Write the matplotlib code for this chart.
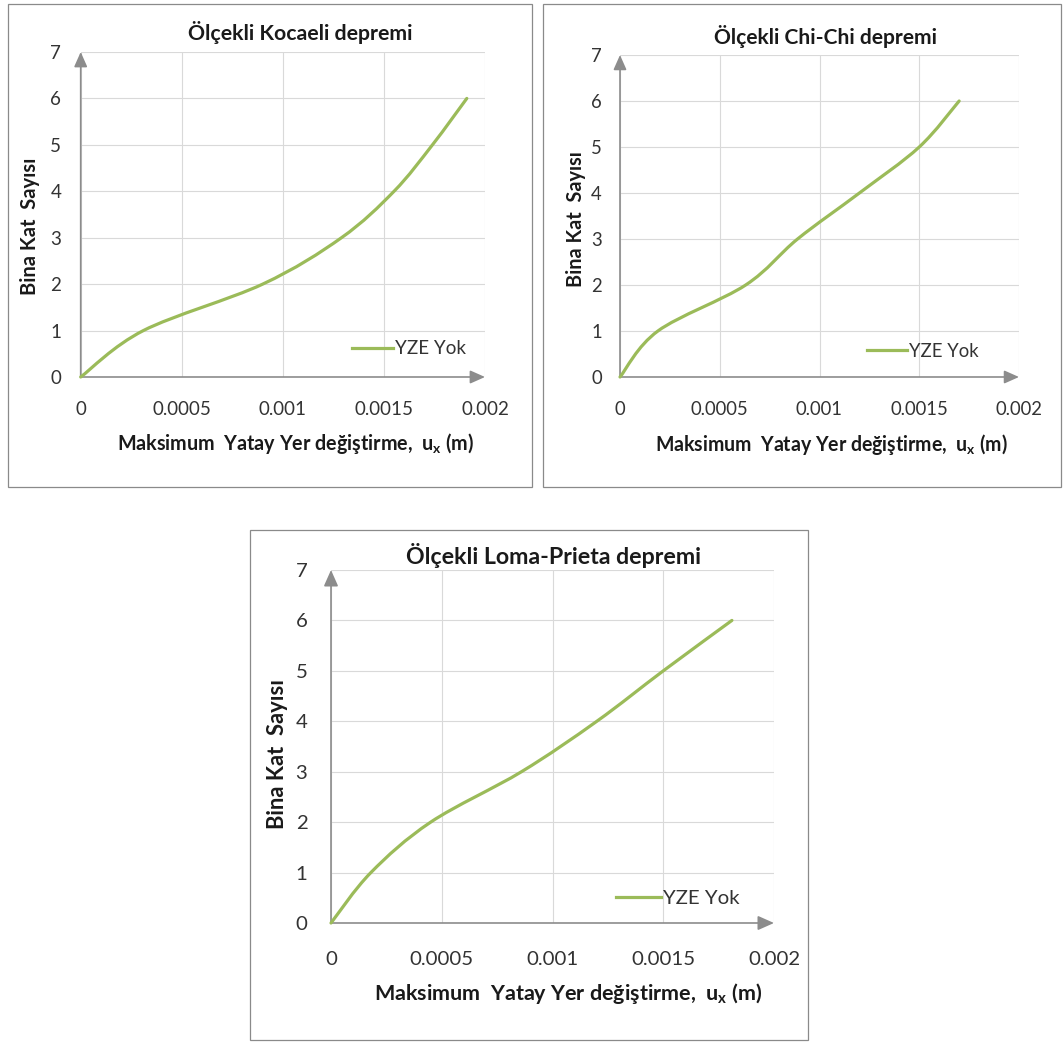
import numpy as np
import matplotlib
matplotlib.use('Agg')
import matplotlib.pyplot as plt
from matplotlib.path import Path
from matplotlib.patches import PathPatch, Rectangle
from matplotlib.lines import Line2D

plt.rcParams['font.family'] = ['Lato', 'DejaVu Sans']
plt.rcParams['mathtext.fontset'] = 'custom'
plt.rcParams['mathtext.rm'] = 'Lato'
plt.rcParams['mathtext.bf'] = 'Lato:bold'
plt.rcParams['mathtext.it'] = 'Lato:italic'

# data: floor count vs. max horizontal displacement (m)
floors = [0, 1, 2, 3, 4, 5, 6]
kocaeli_ux = [0, 0.00031, 0.00090, 0.00129, 0.00155, 0.00174, 0.00191]
chichi_ux = [0, 0.00019, 0.00063, 0.00089, 0.00120, 0.00150, 0.00170]
loma_ux = [0, 0.00018, 0.00045, 0.00086, 0.00120, 0.00150, 0.00181]

titles = ['Ölçekli Kocaeli depremi', 'Ölçekli Chi-Chi depremi',
          'Ölçekli Loma-Prieta depremi']
series_label = 'YZE Yok'
xticks = [0, 0.0005, 0.001, 0.0015, 0.002]
xticklabels = ['0', '0.0005', '0.001', '0.0015', '0.002']
yticks = [0, 1, 2, 3, 4, 5, 6, 7]
xlabel = 'Maksimum  Yatay Yer değiştirme,  $\\mathbf{u_x}$ (m)'
ylabel = 'Bina Kat  Sayısı'

GREEN = '#9bbb59'
AXIS = '#8c8c8c'
GRID = '#d9d9d9'
TXT = '#1a1a1a'
W, H = 1064, 1044

# pixel layout of each panel
layout = [
    dict(box=(80.7, 52, 485, 377), border=(8, 4, 532, 487), title=(300, 33),
         xl=(296, 444), yl=(30, 226), leg=(0.67, 0.087), s=1.0, xpad=17, ypad=14),
    dict(box=(620, 55, 1019, 377), border=(543, 4, 1061, 487), title=(826, 37),
         xl=(831, 445), yl=(576, 219), leg=(0.618, 0.08), s=0.99, xpad=17, ypad=13),
    dict(box=(331, 570, 774, 923), border=(250, 530, 808, 1040), title=(553, 556),
         xl=(568, 993), yl=(277, 754), leg=(0.644, 0.069), s=1.09, xpad=20, ypad=17),
]


def smooth_path(xs, ys):
    # excel-like smoothed line: bezier segments through the data points
    pts = np.column_stack([xs, ys]).astype(float)
    n = len(pts)
    verts = [pts[0]]
    codes = [Path.MOVETO]
    for i in range(n - 1):
        p0 = pts[max(i - 1, 0)]
        p1 = pts[i]
        p2 = pts[i + 1]
        p3 = pts[min(i + 2, n - 1)]
        verts += [p1 + (p2 - p0) / 6.0, p2 - (p3 - p1) / 6.0, p2]
        codes += [Path.CURVE4] * 3
    return Path(verts, codes)


def fig_xy(x, y):
    return x / W, 1 - y / H


fig = plt.figure(figsize=(W / 100, H / 100), dpi=100)

for ux, title, lay in zip([kocaeli_ux, chichi_ux, loma_ux], titles, layout):
    s = lay['s']
    x0, y0, x1, y1 = lay['box']
    ax = fig.add_axes([x0 / W, 1 - y1 / H, (x1 - x0) / W, (y1 - y0) / H])
    ax.set_facecolor('none')

    # chart border
    bx0, by0, bx1, by1 = lay['border']
    fig.patches.append(Rectangle(fig_xy(bx0, by1), (bx1 - bx0) / W, (by1 - by0) / H,
                                 transform=fig.transFigure, fill=False,
                                 edgecolor='#8a8a8a', lw=0.9, zorder=0))

    ax.set_xlim(0, 0.002)
    ax.set_ylim(0, 7)
    ax.set_xticks(xticks)
    ax.set_xticklabels(xticklabels)
    ax.set_yticks(yticks)
    ax.tick_params(length=0, labelsize=13.5 * s, labelcolor='#333333')
    ax.tick_params(axis='x', pad=lay['xpad'])
    ax.tick_params(axis='y', pad=lay['ypad'])
    for sp in ax.spines.values():
        sp.set_visible(False)
    ax.grid(True, color=GRID, lw=0.8, zorder=0)
    ax.set_axisbelow(True)

    # axes with arrow heads
    arrow = dict(arrowstyle='-|>,head_length=0.9,head_width=0.4', color=AXIS,
                 lw=1.2, shrinkA=0, shrinkB=0, mutation_scale=10 * s)
    ax.annotate('', xy=(0, 1), xytext=(0, 0), xycoords='axes fraction',
                textcoords='axes fraction', arrowprops=arrow, zorder=2)
    ax.annotate('', xy=(1, 0), xytext=(0, 0), xycoords='axes fraction',
                textcoords='axes fraction', arrowprops=arrow, zorder=2)

    ax.add_patch(PathPatch(smooth_path(ux, floors), fill=False, edgecolor=GREEN,
                           lw=2.3, capstyle='round', joinstyle='round',
                           zorder=3, clip_on=False))

    handle = Line2D([], [], color=GREEN, lw=2.3)
    ax.legend([handle], [series_label], loc='center left', bbox_to_anchor=lay['leg'],
              frameon=False, fontsize=13.5 * s, handlelength=2.2, handletextpad=0.1,
              borderpad=0, borderaxespad=0, labelcolor='#333333')

    tx, ty = fig_xy(*lay['title'])
    fig.text(tx, ty, title, ha='center', va='center', fontsize=15.3 * s,
             fontweight='bold', color=TXT)
    lx, ly = fig_xy(*lay['xl'])
    fig.text(lx, ly, xlabel, ha='center', va='center', fontsize=14.2 * s,
             fontweight='bold', color=TXT)
    yx, yy = fig_xy(*lay['yl'])
    fig.text(yx, yy, ylabel, ha='center', va='center', rotation=90,
             fontsize=14.5 * s, fontweight='bold', color=TXT)

fig.savefig('out.png', dpi=100, facecolor='white')
